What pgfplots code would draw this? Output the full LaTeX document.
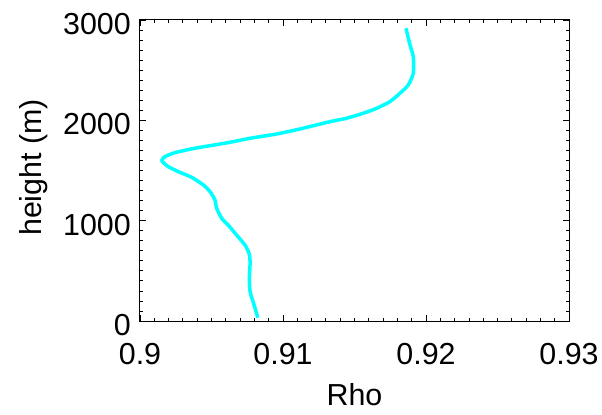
\documentclass[border=0pt]{standalone}
\usepackage{fontspec}
\setmainfont{Liberation Sans}
\usepackage{pgfplots}
\pgfplotsset{compat=1.18}
\definecolor{cy}{RGB}{0,255,255}
\begin{document}
\fontsize{30.5}{36}\selectfont
\begin{tikzpicture}
\begin{axis}[
 name=ax, at={(0,0)}, anchor=south west,
 scale only axis, width=429bp, height=301bp,
 xmin=0.9, xmax=0.93, ymin=0, ymax=3000,
 xtick={0.9,0.91,0.92,0.93}, ytick={0,1000,2000,3000},
 minor x tick num=9, minor y tick num=9,
 scaled ticks=false,
 tick align=inside,
 major tick length=6bp, minor tick length=3bp,
 /pgf/number format/assume math mode=true,
 /pgf/number format/1000 sep={},
 xticklabel style={/pgf/number format/fixed, /pgf/number format/precision=2, inner sep=0pt, yshift=-22bp},
 yticklabel style={inner sep=0pt, xshift=-9bp, yshift=-4bp},
 tick label style={font=\fontsize{30.5}{36}\selectfont},
 xlabel={Rho}, ylabel={height (m)},
 every axis x label/.style={at={(axis description cs:0.5,-0.246)}, anchor=center, font=\fontsize{30.5}{36}\selectfont},
 every axis y label/.style={at={(axis description cs:-0.247,0.51)}, rotate=90, anchor=center, font=\fontsize{30.5}{36}\selectfont},
 axis line style={line width=1bp},
 every tick/.style={black, line width=0.8bp},
]
\addplot[cy, line width=3.5bp, line join=round, smooth, tension=0.4] coordinates {
(0.90824,33) (0.90798,159) (0.90770,291) (0.90765,424) (0.90770,589)
(0.90763,672) (0.90735,755) (0.90677,854) (0.90618,954) (0.90571,1024)
(0.90536,1124) (0.90524,1206) (0.90490,1289) (0.90443,1356) (0.90361,1432)
(0.90268,1489) (0.90198,1538) (0.90152,1598) (0.90175,1638) (0.90245,1678)
(0.90385,1722) (0.90617,1778) (0.90769,1821) (0.90956,1864) (0.91119,1914)
(0.91329,1987) (0.91445,2021) (0.91562,2071) (0.91655,2120) (0.91748,2187)
(0.91818,2270) (0.91876,2353) (0.91911,2469) (0.91911,2635) (0.91888,2752)
(0.91860,2918)
};
\end{axis}
\pgfresetboundingbox
\useasboundingbox (-140bp,-94bp) rectangle (462bp,321bp);
\end{tikzpicture}
\end{document}
